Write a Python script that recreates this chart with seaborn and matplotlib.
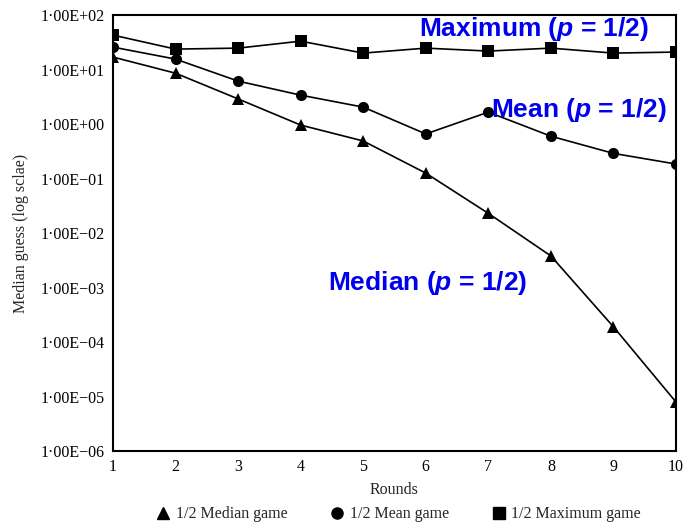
import numpy as np
import pandas as pd
import matplotlib
matplotlib.use("Agg")
import matplotlib.pyplot as plt
import seaborn as sns
from matplotlib.ticker import FixedLocator, FuncFormatter, NullLocator
from matplotlib.lines import Line2D

rounds = [1, 2, 3, 4, 5, 6, 7, 8, 9, 10]
median_game = [17, 8.6, 2.9, 0.96, 0.49, 0.126, 0.023, 0.0038, 1.9e-4, 7.9e-6]
mean_game = [25.9, 15.6, 6.16, 3.4, 2.05, 0.66, 1.66, 0.6, 0.29, 0.185]
maximum_game = [43, 23.8, 24.8, 33.3, 20.1, 24.8, 21.9, 24.8, 20.1, 21.0]
series_names = ["1/2 Median game", "1/2 Mean game", "1/2 Maximum game"]
y_exponents = [2, 1, 0, -1, -2, -3, -4, -5, -6]

df = pd.DataFrame({
    "Rounds": rounds * 3,
    "value": median_game + mean_game + maximum_game,
    "game": [series_names[0]] * 10 + [series_names[1]] * 10 + [series_names[2]] * 10,
})

sns.set_style("white")
plt.rcParams["font.family"] = ["Liberation Serif", "DejaVu Serif"]
plt.rcParams["mathtext.fontset"] = "custom"
plt.rcParams["mathtext.it"] = "Liberation Sans:bold:italic"
plt.rcParams["mathtext.rm"] = "Liberation Sans:bold"

fig = plt.figure(figsize=(6.83, 5.22), dpi=100)
ax = fig.add_axes([0.1654, 0.136, 0.8244, 0.835])

markers = {series_names[0]: "^", series_names[1]: "o", series_names[2]: "s"}
sns.lineplot(data=df, x="Rounds", y="value", hue="game", style="game",
             markers=markers, dashes=False,
             palette={n: "black" for n in series_names},
             markersize=8, linewidth=1.2, markeredgewidth=0,
             ax=ax, legend=False)

ax.set_yscale("log")
ax.set_ylim(1e-6, 1e2)
ax.set_xlim(1, 10)
ax.yaxis.set_major_locator(FixedLocator([10.0 ** e for e in y_exponents]))
ax.yaxis.set_minor_locator(NullLocator())


def yfmt(v, pos):
    e = int(round(np.log10(v)))
    sign = "+" if e >= 0 else "\u2212"
    return f"1\u00b700E{sign}{abs(e):02d}"


ax.yaxis.set_major_formatter(FuncFormatter(yfmt))
ax.set_xticks(rounds)
ax.tick_params(axis="both", direction="in", length=6, width=1.2, labelsize=11.5, colors="black")
ax.tick_params(axis="y", pad=6)
ax.tick_params(axis="x", pad=6)
for s in ax.spines.values():
    s.set_color("black")
    s.set_linewidth(1.5)

ax.set_xlabel("Rounds", fontsize=11.5, labelpad=5)
ax.set_ylabel("Median guess (log sclae)", fontsize=11.5, labelpad=8)

blue = "#0000ee"
kw = dict(transform=ax.transAxes, color=blue, fontsize=19, fontweight="bold",
          family="Liberation Sans", ha="center", va="center")
ax.text(0.748, 0.968, "Maximum ($p$ = 1/2)", **kw)
ax.text(0.828, 0.782, "Mean ($p$ = 1/2)", **kw)
ax.text(0.558, 0.385, "Median ($p$ = 1/2)", **kw)

handles = [Line2D([], [], color="black", marker=markers[n], linestyle="none", markersize=8)
           for n in series_names]
fig.legend(handles, series_names, loc="lower center", bbox_to_anchor=(0.583, -0.028),
           ncol=3, frameon=False, fontsize=11.5, handletextpad=0.3, columnspacing=2.6,
           handlelength=1.0)

fig.savefig("out.png", dpi=100)
